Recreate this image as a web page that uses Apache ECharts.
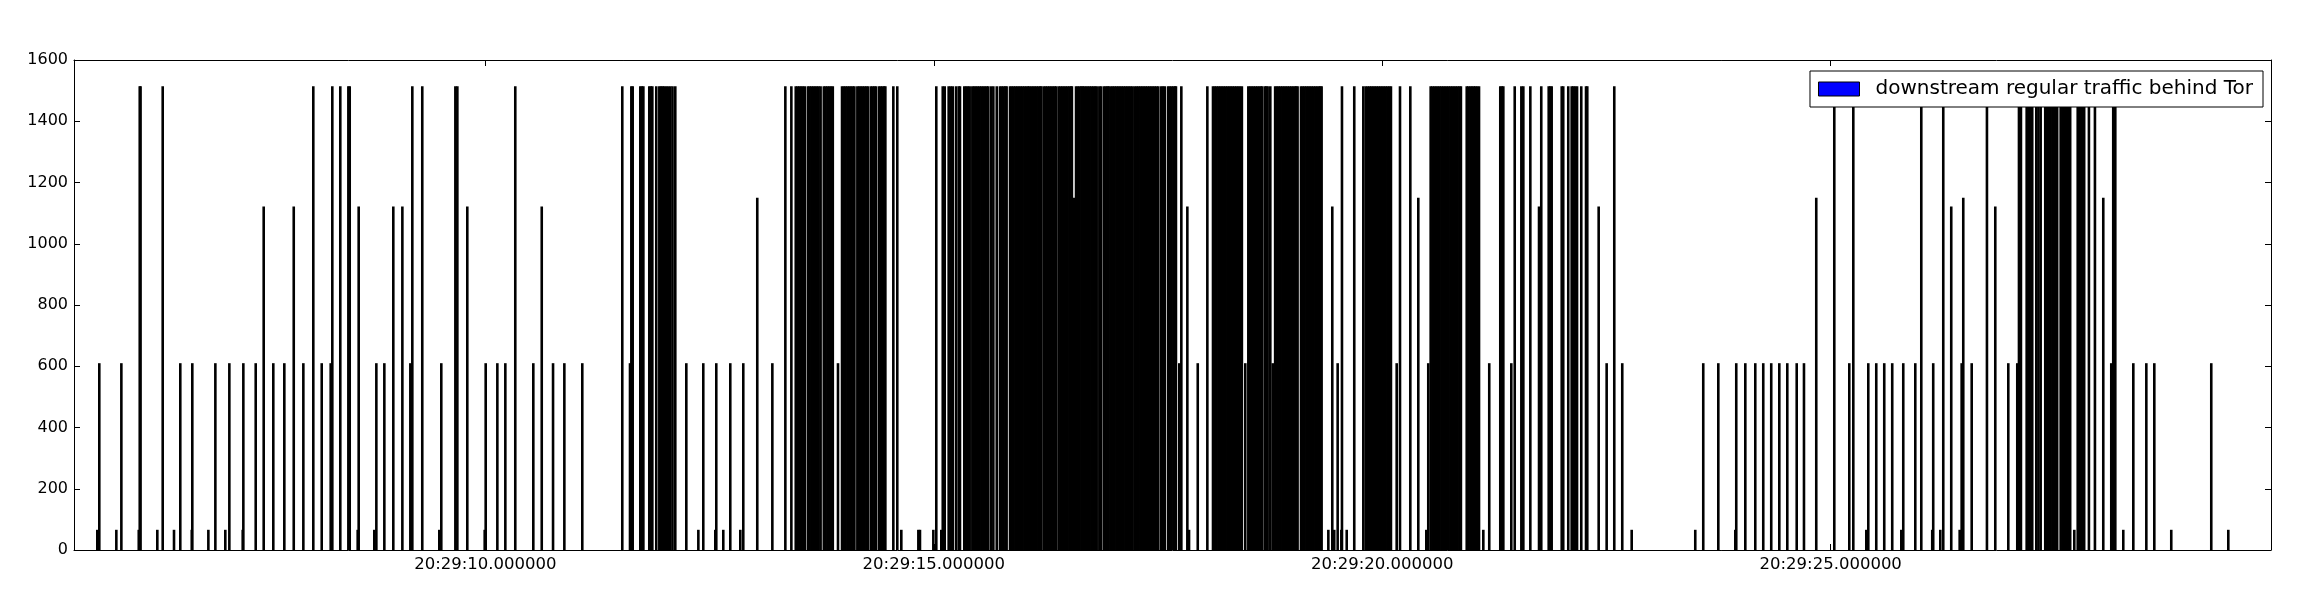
<!DOCTYPE html>
<html><head><meta charset="utf-8">
<script src="https://cdn.jsdelivr.net/npm/echarts@6/dist/echarts.min.js"></script>
<style>html,body{margin:0;padding:0;background:#fff}#c{width:2312px;height:612px}</style>
</head><body><div id="c"></div>
<script>
// Packet arrival times in seconds after 20:29:00, grouped by frame size (bytes)
const seriesName = 'downstream regular traffic behind Tor';
const xTickSeconds = [10, 15, 20, 25];
const xMin = 5.414, xMax = 29.909;
const yMin = 0, yMax = 1600, yStep = 200;

const ack66 = [5.674, 5.886, 6.136, 6.343, 6.529, 6.727, 6.912, 7.101, 7.295, 8.577, 8.762, 9.487, 9.993,
  12.375, 12.564, 12.653, 12.843, 14.638, 14.828, 14.846, 14.995, 15.084, 17.846, 19.399, 19.465, 19.544,
  19.604, 20.491, 21.127, 22.781, 23.490, 23.936, 25.397, 25.787, 26.132, 26.222, 26.438, 27.716, 28.262,
  28.797, 29.433];

const pkt610 = [5.696, 5.942, 6.599, 6.733, 6.990, 7.146, 7.302, 7.440, 7.636, 7.759, 7.971, 8.176, 8.276,
  8.785, 8.874, 9.164, 9.509, 10.004, 10.134, 10.223, 10.535, 10.755, 10.881, 11.081, 11.613, 12.241,
  12.430, 12.575, 12.731, 12.876, 13.200, 13.932, 17.737, 17.943, 18.473, 18.779, 19.503, 20.161, 20.513,
  21.193, 21.439, 22.502, 22.676, 23.579, 23.747, 23.947, 24.048, 24.159, 24.248, 24.337, 24.427, 24.516,
  24.621, 24.702, 25.207, 25.419, 25.508, 25.597, 25.686, 25.809, 25.943, 26.143, 26.460, 26.572, 26.980,
  27.080, 28.128, 28.374, 28.519, 28.608, 29.243];

const pkt1122 = [7.529, 7.864, 8.588, 8.974, 9.075, 9.799, 10.629, 17.827, 19.443, 21.748, 22.413, 26.344, 26.835];

const pkt1150 = [13.032, 16.564, 20.402, 24.839, 26.478, 28.039];

const pkt1514 = [6.147, 6.156, 6.403, 8.082, 8.294, 8.383, 8.473, 8.488, 9.186, 9.297, 9.666, 9.688, 10.334,
  11.527, 11.628, 11.643, 11.728, 11.745, 11.762, 11.828, 11.845, 11.862, 11.906, 11.940, 11.958, 11.976,
  11.992, 12.015, 12.037, 12.062, 12.087, 12.118, 13.345, 13.412,
  13.461, 13.481, 13.500, 13.520, 13.540, 13.561, 13.596, 13.616, 13.636, 13.656, 13.676, 13.696, 13.716,
  13.738, 13.774, 13.794, 13.814, 13.834, 13.854, 13.874,
  13.977, 13.997, 14.017, 14.037, 14.057, 14.077, 14.097, 14.115, 14.148, 14.168, 14.188, 14.208, 14.228,
  14.248, 14.266, 14.298, 14.318, 14.338, 14.354, 14.388, 14.408, 14.428, 14.446, 14.460,
  14.549, 14.593, 15.028, 15.100, 15.122, 15.166, 15.189, 15.211, 15.248, 15.278, 15.292,
  15.340, 15.360, 15.380, 15.400,
  15.430, 15.450, 15.470, 15.490, 15.510, 15.530, 15.550, 15.570, 15.590, 15.607,
  15.638, 15.664, 15.702,
  15.738, 15.758, 15.778, 15.798, 15.812,
  15.850, 15.870, 15.890, 15.910, 15.930, 15.950, 15.970, 15.990, 16.010, 16.030, 16.050, 16.064,
  16.087, 16.107, 16.127, 16.147, 16.167, 16.187, 16.200, 16.228, 16.248, 16.268, 16.288, 16.308, 16.328,
  16.348, 16.364, 16.392, 16.412, 16.432, 16.452, 16.472, 16.492, 16.512, 16.530, 16.540,
  16.586, 16.606, 16.626, 16.646, 16.659,
  16.678, 16.698, 16.718, 16.738, 16.758, 16.778, 16.798, 16.816,
  16.846, 16.866, 16.898, 16.918, 16.938, 16.950,
  16.976, 16.996, 17.016, 17.036, 17.056, 17.076, 17.096, 17.116, 17.136, 17.156, 17.176, 17.196, 17.217,
  17.243, 17.263, 17.283, 17.303, 17.323, 17.343, 17.363, 17.383, 17.403, 17.423, 17.443, 17.463, 17.483,
  17.503, 17.535, 17.555, 17.575, 17.612, 17.632, 17.652, 17.672, 17.690, 17.700,
  17.760, 18.050,
  18.113, 18.133, 18.153, 18.173, 18.193, 18.213, 18.233, 18.253, 18.273, 18.293, 18.313, 18.333, 18.353,
  18.373, 18.393, 18.413, 18.435,
  18.507, 18.527, 18.547, 18.567, 18.587, 18.607, 18.627, 18.647, 18.660, 18.690, 18.707, 18.722, 18.752,
  18.806, 18.826, 18.846, 18.866, 18.886, 18.906, 18.926, 18.946, 18.966, 18.986, 19.006, 19.026, 19.041, 19.056,
  19.094, 19.114, 19.134, 19.154, 19.174, 19.194, 19.214, 19.234, 19.254, 19.274, 19.294, 19.310, 19.324,
  19.551, 19.688, 19.789, 19.816,
  19.838, 19.858, 19.878, 19.898, 19.918, 19.938, 19.958, 19.978, 19.998, 20.018, 20.038, 20.058, 20.078, 20.097,
  20.198, 20.313,
  20.540, 20.560, 20.580, 20.600, 20.620, 20.640, 20.660, 20.680, 20.700, 20.720, 20.740, 20.760, 20.780,
  20.800, 20.820, 20.840, 20.860, 20.877,
  20.942, 20.960, 20.982, 21.001, 21.020, 21.038, 21.057, 21.079,
  21.316, 21.333, 21.350, 21.477, 21.551, 21.573, 21.651, 21.773, 21.856, 21.873, 21.889, 22.001, 22.018,
  22.074, 22.112, 22.130, 22.149, 22.172, 22.219, 22.272, 22.286, 22.587,
  25.040, 25.252, 26.010, 26.255, 26.742, 27.099, 27.121, 27.185, 27.205, 27.225, 27.247, 27.292, 27.316, 27.341,
  27.392, 27.412, 27.432, 27.452, 27.472, 27.492, 27.512, 27.525,
  27.564, 27.584, 27.604, 27.624, 27.644, 27.660, 27.670,
  27.754, 27.774, 27.794, 27.812, 27.826,
  27.879, 27.946, 28.150, 28.173];

const sizeGroups = [[66, ack66], [610, pkt610], [1122, pkt1122], [1150, pkt1150], [1514, pkt1514]];
const barData = [];
sizeGroups.forEach(([size, times]) => times.forEach(t => barData.push([t, size])));
barData.sort((a, b) => a[0] - b[0]);

const FONT = 'DejaVu Sans';
const fmtTime = v => '20:29:' + String(Math.round(v)).padStart(2, '0') + '.000000';

const chart = echarts.init(document.getElementById('c'), null, {renderer: 'canvas'});
const axisLine = {show: true, onZero: false, lineStyle: {color: '#000', width: 1}};
const xBase = {type: 'value', min: xMin, max: xMax, splitLine: {show: false}, axisLine: axisLine};
const yBase = {type: 'value', min: yMin, max: yMax, interval: yStep, splitLine: {show: false}, axisLine: axisLine};

chart.setOption({
  animation: false,
  backgroundColor: '#fff',
  grid: {left: 74, right: 41, top: 60, bottom: 62, containLabel: false},
  legend: {
    data: [{name: seriesName, icon: 'rect', itemStyle: {color: '#0000ff', borderColor: '#000', borderWidth: 1}}],
    right: 49, top: 71,
    itemWidth: 41, itemHeight: 14,
    padding: [6, 10, 6, 8],
    borderColor: '#000', borderWidth: 1, borderRadius: 0,
    backgroundColor: '#fff',
    selectedMode: false,
    textStyle: {fontFamily: FONT, fontSize: 20, color: '#000', lineHeight: 24, padding: [0, 0, 0, 11]}
  },
  xAxis: [
    Object.assign({}, xBase, {
      position: 'bottom',
      axisTick: {show: true, inside: true, length: 6, customValues: xTickSeconds, lineStyle: {color: '#000'}},
      axisLabel: {show: true, customValues: xTickSeconds, formatter: fmtTime, margin: 6,
        fontFamily: FONT, fontSize: 16.5, color: '#000'}
    }),
    Object.assign({}, xBase, {
      position: 'top',
      axisTick: {show: true, inside: true, length: 6, customValues: xTickSeconds, lineStyle: {color: '#000'}},
      axisLabel: {show: false}
    })
  ],
  yAxis: [
    Object.assign({}, yBase, {
      position: 'left',
      axisTick: {show: true, inside: true, length: 6, lineStyle: {color: '#000'}},
      axisLabel: {show: true, margin: 6, fontFamily: FONT, fontSize: 16, color: '#000',
        formatter: v => String(v)}
    }),
    Object.assign({}, yBase, {
      position: 'right',
      axisTick: {show: true, inside: true, length: 6, lineStyle: {color: '#000'}},
      axisLabel: {show: false}
    })
  ],
  series: [{
    name: seriesName,
    type: 'bar',
    xAxisIndex: 0, yAxisIndex: 0,
    barWidth: 2.6,
    itemStyle: {color: '#000'},
    emphasis: {disabled: true},
    data: barData
  }]
});
</script></body></html>
